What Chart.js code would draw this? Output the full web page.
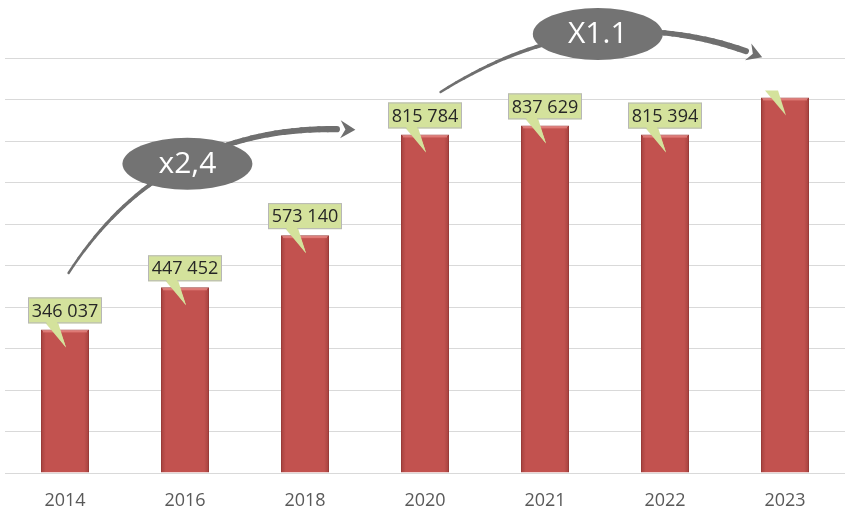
<!DOCTYPE html>
<html>
<head>
<meta charset="utf-8">
<script src="https://cdn.jsdelivr.net/npm/chart.js@4/dist/chart.umd.min.js"></script>
<style>
  html, body { margin: 0; padding: 0; background: #fff; }
  #wrap { width: 846px; height: 511px; }
</style>
</head>
<body>
<div id="wrap"><canvas id="growthChart" width="846" height="511"></canvas></div>
<script>
const years = ['2014', '2016', '2018', '2020', '2021', '2022', '2023'];
const values = [346037, 447452, 573140, 815784, 837629, 815394, 905000];
const valueLabels = ['346 037', '447 452', '573 140', '815 784', '837 629', '815 394', null];
const yTicks = { min: 0, max: 1000000, step: 100000 };

// growth arrows, positioned in category index / value units
const arrows = [
  { text: 'x2,4', from: [0.03, 482000], ctrl: [0.86, 853000], to: [2.42, 827000], badge: [1.02, 745000] },
  { text: 'X1.1', from: [3.13, 918000], ctrl: [4.45, 1159000], to: [5.81, 1002000], badge: [4.44, 1058000] },
];

const font = '"Open Sans", "Noto Sans", sans-serif';
const barRed = '#c0504d';

function barFill(ctx) {
  const chart = ctx.chart;
  if (!chart.chartArea) return barRed;
  const x = chart.scales.x.getPixelForValue(ctx.dataIndex);
  const g = chart.ctx.createLinearGradient(x - 24, 0, x + 24, 0);
  g.addColorStop(0, '#a4413e');
  g.addColorStop(0.1, '#c2524f');
  g.addColorStop(0.9, '#c2524f');
  g.addColorStop(1, '#a4413e');
  return g;
}

const callouts = {
  id: 'callouts',
  afterDatasetsDraw(chart) {
    const c = chart.ctx;
    const meta = chart.getDatasetMeta(0);
    c.save();
    meta.data.forEach((bar, i) => {
      const txt = valueLabels[i];
      const bx = bar.x, top = bar.y;
      // light bevel along the bar top
      c.fillStyle = 'rgba(235,140,136,0.7)';
      c.fillRect(bx - bar.width / 2 + 2, top + 1, bar.width - 4, 2);
      const w = 74, h = 26;
      const left = bx - w / 2, bottom = top - 6;
      // tail
      c.beginPath();
      c.moveTo(left + 17, bottom - 1);
      c.lineTo(left + 30, bottom - 1);
      c.lineTo(bx + 1, top + 18);
      c.closePath();
      c.fillStyle = '#d4e29c';
      c.fill();
      if (!txt) return;
      c.fillStyle = '#d4e29c';
      c.strokeStyle = '#b7b7b7';
      c.lineWidth = 1;
      c.fillRect(left, bottom - h, w, h);
      c.strokeRect(left + 0.5, bottom - h + 0.5, w - 1, h - 1);
      // redraw tail join over the border
      c.beginPath();
      c.moveTo(left + 18, bottom - 1.5);
      c.lineTo(left + 29, bottom - 1.5);
      c.lineTo(bx + 1, top + 18);
      c.closePath();
      c.fill();
      c.fillStyle = '#262626';
      c.font = '18px ' + font;
      c.textAlign = 'center';
      c.textBaseline = 'middle';
      c.fillText(txt, bx, bottom - h / 2 + 1);
    });
    c.restore();
  }
};

const growthArrows = {
  id: 'growthArrows',
  afterDraw(chart) {
    const c = chart.ctx;
    const xs = chart.scales.x, ys = chart.scales.y;
    const px = (p) => [xs.getPixelForValue(p[0]), ys.getPixelForValue(p[1])];
    c.save();
    arrows.forEach((a) => {
      const p0 = px(a.from), p1 = px(a.ctrl), p2 = px(a.to);
      const pt = (t) => [
        (1 - t) * (1 - t) * p0[0] + 2 * (1 - t) * t * p1[0] + t * t * p2[0],
        (1 - t) * (1 - t) * p0[1] + 2 * (1 - t) * t * p1[1] + t * t * p2[1],
      ];
      c.strokeStyle = '#6f6f6f';
      c.lineCap = 'round';
      const n = 40;
      for (let k = 0; k < n - 2; k++) {
        const a0 = pt(k / n), a1 = pt((k + 1) / n);
        c.lineWidth = 2.5 + 4 * (k / n);
        c.beginPath();
        c.moveTo(a0[0], a0[1]);
        c.lineTo(a1[0], a1[1]);
        c.stroke();
      }
      // arrow head
      const e = pt(1), b = pt(0.95);
      const ang = Math.atan2(e[1] - b[1], e[0] - b[0]);
      c.fillStyle = '#6f6f6f';
      c.beginPath();
      c.moveTo(e[0], e[1]);
      c.lineTo(e[0] - 15 * Math.cos(ang) + 9 * Math.sin(ang), e[1] - 15 * Math.sin(ang) - 9 * Math.cos(ang));
      c.lineTo(e[0] - 10 * Math.cos(ang), e[1] - 10 * Math.sin(ang));
      c.lineTo(e[0] - 15 * Math.cos(ang) - 9 * Math.sin(ang), e[1] - 15 * Math.sin(ang) + 9 * Math.cos(ang));
      c.closePath();
      c.fill();
      // badge
      const m = px(a.badge);
      c.fillStyle = '#737373';
      c.beginPath();
      c.ellipse(m[0], m[1], 65, 26, 0, 0, Math.PI * 2);
      c.fill();
      c.fillStyle = '#ffffff';
      c.font = '30px ' + font;
      c.textAlign = 'center';
      c.textBaseline = 'middle';
      c.fillText(a.text, m[0], m[1] + 1);
    });
    c.restore();
  }
};

new Chart(document.getElementById('growthChart'), {
  type: 'bar',
  data: {
    labels: years,
    datasets: [{
      data: values,
      backgroundColor: barFill,
      borderColor: '#9a3b38',
      borderWidth: 1,
      barPercentage: 0.8,
      categoryPercentage: 0.5,
    }],
  },
  options: {
    responsive: false,
    animation: false,
    devicePixelRatio: 1,
    layout: { padding: { left: 5, right: 1, top: 58, bottom: 0 } },
    plugins: { legend: { display: false }, tooltip: { enabled: false } },
    scales: {
      x: {
        grid: { display: false, drawTicks: false },
        border: { display: false },
        ticks: { color: '#595959', font: { family: font, size: 18 }, padding: 17 },
        afterFit: (s) => { s.height = 38; },
      },
      y: {
        min: yTicks.min, max: yTicks.max,
        ticks: { display: false, stepSize: yTicks.step },
        grid: { color: '#d9d9d9', drawTicks: false },
        border: { display: false },
        afterFit: (s) => { s.width = 0; },
      },
    },
  },
  plugins: [callouts, growthArrows],
});
</script>
</body>
</html>
